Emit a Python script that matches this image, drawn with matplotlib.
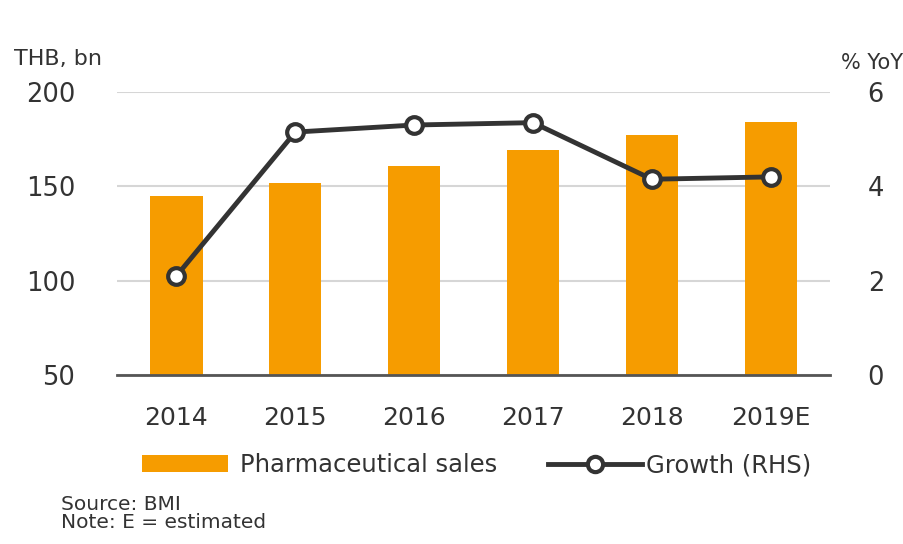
import matplotlib
matplotlib.use("Agg")
import matplotlib.pyplot as plt

years = ["2014", "2015", "2016", "2017", "2018", "2019E"]
sales_thb_bn = [145, 152, 161, 169, 177, 184]
growth_yoy = [2.1, 5.15, 5.3, 5.35, 4.15, 4.2]

left_ticks = [50, 100, 150, 200]
right_ticks = [0, 2, 4, 6]

ORANGE = "#F69C00"
DARK = "#333333"
TEXT = "#333333"
GRID = "#d6d6d6"

plt.rcParams["font.family"] = ["DejaVu Sans"]

fig = plt.figure(figsize=(9.04, 5.44), dpi=100)
ax = fig.add_axes([0.1294, 0.3107, 0.789, 0.5202])
ax2 = ax.twinx()

x = list(range(len(years)))
bars = ax.bar(x, [v - 50 for v in sales_thb_bn], bottom=50, width=0.44,
              color=ORANGE, zorder=2, label="Pharmaceutical sales")
ax.set_ylim(50, 200)
ax.set_xlim(-0.5, len(years) - 0.5)
ax.set_yticks(left_ticks)
ax.set_xticks(x)
ax.set_xticklabels(years)
ax.grid(axis="y", color=GRID, linewidth=1.5, zorder=0)
ax.set_axisbelow(True)

line, = ax2.plot(x, growth_yoy, color=DARK, linewidth=3.5, marker="o",
                 markersize=12, markerfacecolor="white",
                 markeredgecolor=DARK, markeredgewidth=3, zorder=3,
                 label="Growth (RHS)")
ax2.set_ylim(0, 6)
ax2.set_yticks(right_ticks)

for a in (ax, ax2):
    for s in ("top", "left", "right", "bottom"):
        a.spines[s].set_visible(False)
ax.spines["bottom"].set_visible(True)
ax.spines["bottom"].set_color("#555555")
ax.spines["bottom"].set_linewidth(2)

ax.tick_params(axis="y", length=0, pad=30, labelsize=18.5, labelcolor=TEXT)
ax.tick_params(axis="x", length=0, pad=22, labelsize=18, labelcolor=TEXT)
ax2.tick_params(axis="y", length=0, pad=27, labelsize=18.5, labelcolor=TEXT)

fig.text(0.016, 0.8915, "THB, bn", fontsize=16, color=TEXT, va="center")
fig.text(0.999, 0.885, "% YoY", fontsize=15, color=TEXT, va="center", ha="right")

leg1 = fig.legend(handles=[bars], labels=["Pharmaceutical sales"],
                  loc="center left", bbox_to_anchor=(0.146, 0.145),
                  borderaxespad=0, frameon=False, fontsize=17.5,
                  handlelength=3.54, handleheight=0.66, handletextpad=0.5,
                  labelcolor=TEXT)
leg2 = fig.legend(handles=[line], labels=["Growth (RHS)"],
                  loc="center left", bbox_to_anchor=(0.595, 0.145),
                  borderaxespad=0, frameon=False, fontsize=17.5,
                  handlelength=3.9, handletextpad=0.15, labelcolor=TEXT)
for h in leg2.legend_handles:
    h.set_markersize(11)
    h.set_linewidth(3.5)

fig.text(0.068, 0.072, "Source: BMI", fontsize=14.5, color=TEXT, va="center")
fig.text(0.068, 0.039, "Note: E = estimated", fontsize=14.5, color=TEXT, va="center")

fig.savefig("out.png", dpi=100, facecolor="white")
